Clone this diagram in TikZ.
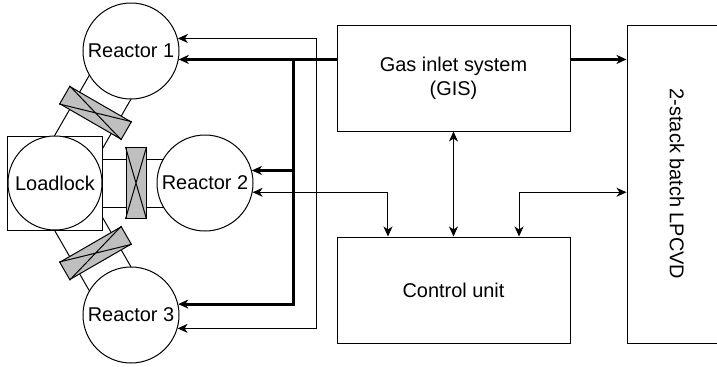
\documentclass[tikz,border=0pt]{standalone}
\usepackage{fontspec}
\setmainfont{Liberation Sans}
\usepackage{graphicx}
\usetikzlibrary{arrows.meta,calc,backgrounds}

\begin{document}
\begin{tikzpicture}[
    x=0.5bp, y=0.5bp,
    font=\fontsize{10}{12}\selectfont,
    >={Stealth[length=5bp, width=4.5bp, inset=1.5bp]},
    box/.style={rectangle, draw=black, line width=0.5bp,
                align=center, inner sep=0pt},
    reactor/.style={circle, draw=black, fill=white, line width=0.5bp,
                    minimum size=48bp, inner sep=0pt},
    valve/.style={rectangle, draw=black, fill=black!25, line width=0.5bp,
                  minimum width=10bp, minimum height=35.5bp, inner sep=0pt},
    chan/.style={line width=0.5bp},
    feed/.style={->, line width=1.5bp},
    sig/.style={<->, line width=0.5bp}
]
  \useasboundingbox (0,0) rectangle (717,366);

  % Loadlock and reactors
  \node[box, fill=white, minimum size=47bp] (ll) at (55,183) {};
  \node[reactor, minimum size=47bp] (llc) at (ll) {Loadlock};
  \node[reactor] (r1) at (131,315) {Reactor 1};
  \node[reactor] (r2) at (205,183) {Reactor 2};
  \node[reactor] (r3) at (131,51) {Reactor 3};

  % Transfer channels behind the chambers
  \begin{scope}[on background layer]
    \foreach \a/\r in {60/r1, 0/r2, -60/r3}
      \draw[chan] ($(ll.center)+(\a+90:24)$) -- ($(\r.center)+(\a+90:24)$)
                  ($(ll.center)+(\a-90:24)$) -- ($(\r.center)+(\a-90:24)$);
  \end{scope}

  % Gate valves
  \foreach \a/\r in {60/r1, 0/r2, -60/r3} {
    \node[valve, rotate=\a] (v\r) at ($(ll.center)+(\a:81)$) {};
    \draw[chan] (v\r.north west) -- (v\r.south east)
                (v\r.north east) -- (v\r.south west);
  }

  % Right hand blocks
  \node[box, minimum width=116.5bp, minimum height=53bp] (gis) at (453.5,288)
       {Gas inlet system\\(GIS)};
  \node[box, minimum width=116.5bp, minimum height=53bp] (ctrl) at (453.5,76)
       {Control unit};
  \node[box, minimum width=50bp, minimum height=159bp] (lp) at (677,182)
       {\rotatebox{-90}{2-stack batch LPCVD}};

  % Bus positions
  \coordinate (gbus) at (293,0);
  \coordinate (tbus) at (316,0);

  % Gas feed lines (thick)
  \draw[feed] (gis.west |- r1.-10) -- (r1.-10);
  \draw[feed] (gbus |- r1.-10) |- (r3.13);
  \draw[feed] (gbus |- r2.15) -- (r2.15);
  \draw[feed] (gis.east |- r1.-10) -- (lp.west |- r1.-10);

  % Control lines (thin)
  \draw[sig] (r1.15) -- (r1.15 -| tbus) |- (r3.-16);
  \draw[sig] (r2.-11) -| ($(ctrl.north west)!0.22!(ctrl.north east)$);
  \draw[sig] (gis.south) -- (ctrl.north);
  \draw[sig] ($(ctrl.north west)!0.78!(ctrl.north east)$) |- (lp.west |- r2.-11);

\end{tikzpicture}
\end{document}
